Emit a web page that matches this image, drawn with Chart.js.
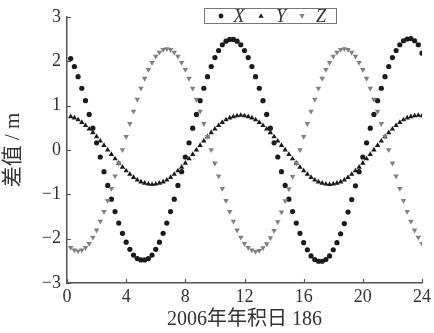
<!DOCTYPE html>
<html>
<head>
<meta charset="utf-8">
<script src="https://cdn.jsdelivr.net/npm/chart.js@4/dist/chart.umd.min.js"></script>
<style>
html,body{margin:0;padding:0;background:#fff;}
canvas{display:block;}
</style>
</head>
<body>
<canvas id="c" width="434" height="333"></canvas>
<script>
// Hours of 2006 day-of-year 186 (15-minute samples)
const hours = [0.25,0.5,0.75,1,1.25,1.5,1.75,2,2.25,2.5,2.75,3,3.25,3.5,3.75,4,4.25,4.5,4.75,5,5.25,5.5,5.75,6,6.25,6.5,6.75,7,7.25,7.5,7.75,8,8.25,8.5,8.75,9,9.25,9.5,9.75,10,10.25,10.5,10.75,11,11.25,11.5,11.75,12,12.25,12.5,12.75,13,13.25,13.5,13.75,14,14.25,14.5,14.75,15,15.25,15.5,15.75,16,16.25,16.5,16.75,17,17.25,17.5,17.75,18,18.25,18.5,18.75,19,19.25,19.5,19.75,20,20.25,20.5,20.75,21,21.25,21.5,21.75,22,22.25,22.5,22.75,23,23.25,23.5,23.75,24];

const seriesX = [2.06,1.88,1.65,1.39,1.11,0.80,0.49,0.16,-0.16,-0.49,-0.80,-1.11,-1.39,-1.65,-1.88,-2.08,-2.24,-2.37,-2.45,-2.48,-2.48,-2.45,-2.37,-2.24,-2.08,-1.88,-1.65,-1.39,-1.11,-0.80,-0.49,-0.16,0.16,0.49,0.80,1.11,1.39,1.65,1.88,2.08,2.24,2.37,2.45,2.49,
  2.49,2.45,2.37,2.24,2.08,1.88,1.65,1.39,1.11,0.80,0.49,0.16,-0.16,-0.49,-0.80,-1.11,-1.39,-1.65,-1.88,-2.09,-2.25,-2.39,-2.47,-2.51,-2.51,-2.47,-2.39,-2.25,-2.09,-1.89,-1.66,-1.40,-1.12,-0.81,-0.49,-0.16,0.16,0.49,0.80,1.11,1.39,1.65,1.88,2.08,2.24,2.37,2.46,2.50,
  2.51,2.46,2.37,2.18];

const seriesY = [0.75,0.72,0.68,0.62,0.55,0.47,0.39,0.30,0.20,0.10,0,-0.10,-0.20,-0.30,-0.39,-0.47,-0.55,-0.62,-0.68,-0.72,-0.75,-0.77,-0.78,-0.77,-0.75,-0.72,-0.68,-0.62,-0.55,-0.47,-0.39,-0.30,-0.20,-0.10,0,0.10,0.20,0.30,0.39,0.47,0.55,0.62,0.68,0.72,0.75,0.77,
  0.78,0.77,
  0.75,0.72,0.68,0.62,0.55,0.47,0.39,0.30,0.20,0.10,0,-0.10,-0.20,-0.30,-0.39,-0.47,-0.55,-0.62,-0.68,-0.72,-0.75,-0.77,-0.78,-0.77,-0.75,-0.72,-0.68,-0.62,-0.55,-0.47,-0.39,-0.30,-0.20,-0.10,0,0.10,0.20,0.30,0.39,0.47,0.55,0.62,0.68,0.72,0.75,0.77,
  0.78,0.77];

const seriesZ = [-2.20,-2.26,-2.28,-2.26,-2.20,-2.11,-1.97,-1.81,-1.61,-1.39,-1.14,-0.87,-0.59,-0.30,0,0.30,0.59,0.87,1.14,1.39,1.61,1.81,1.97,2.11,2.20,2.26,
  2.28,2.26,2.20,2.11,1.97,1.81,1.61,1.39,1.14,0.87,0.59,0.30,0,-0.30,-0.59,-0.87,-1.14,-1.39,-1.61,-1.81,-1.97,-2.11,-2.20,-2.26,-2.29,-2.27,-2.21,-2.12,-1.98,-1.82,-1.62,-1.40,-1.15,-0.88,-0.60,-0.30,0,0.30,0.59,0.87,1.14,1.39,1.61,1.81,1.97,2.11,2.20,2.26,
  2.28,2.26,2.20,2.11,1.97,1.81,1.61,1.39,1.14,0.87,0.59,0.30,0,-0.30,-0.59,-0.87,-1.14,-1.39,-1.61,-1.81,-1.97,-2.11];

const seriesNames = ['X','Y','Z'];
const xTicks = [0,4,8,12,16,20,24];
const yTicks = [-3,-2,-1,0,1,2,3];

const SERIF = "'Liberation Serif','Noto Sans CJK SC',serif";
const TXT = '#333';
const AX = '#555';

function pts(arr){ return hours.map((h,i)=>({x:h,y:arr[i]})); }

const insideTicks = {
  id:'insideTicks',
  afterDraw(chart){
    const ctx = chart.ctx, xs = chart.scales.x, ys = chart.scales.y;
    const ca = chart.chartArea;
    ctx.save();
    ctx.strokeStyle = AX; ctx.lineWidth = 1.2;
    ctx.beginPath();
    xTicks.forEach(v=>{ const p = Math.round(xs.getPixelForValue(v))+0.5; ctx.moveTo(p, ca.bottom); ctx.lineTo(p, ca.bottom-4); });
    yTicks.forEach(v=>{ const p = Math.round(ys.getPixelForValue(v))+0.5; ctx.moveTo(ca.left, p); ctx.lineTo(ca.left+4, p); });
    ctx.stroke();
    ctx.restore();
  }
};

const boxLegend = {
  id:'boxLegend',
  afterDraw(chart){
    const ctx = chart.ctx;
    ctx.save();
    const bx=204, by=8, bw=133, bh=16;
    ctx.fillStyle='#fff'; ctx.fillRect(bx,by,bw,bh);
    ctx.strokeStyle='#777'; ctx.lineWidth=1;
    ctx.strokeRect(bx+0.5,by+0.5,bw-1,bh-1);
    const cy = by+bh/2;
    ctx.fillStyle='#1a1a1a';
    ctx.beginPath(); ctx.arc(221,cy,2.4,0,Math.PI*2); ctx.fill();
    ctx.beginPath(); ctx.moveTo(261,cy-2.8); ctx.lineTo(263.6,cy+1.7); ctx.lineTo(258.4,cy+1.7); ctx.closePath(); ctx.fill();
    ctx.fillStyle='#808080';
    ctx.beginPath(); ctx.moveTo(302,cy+2.8); ctx.lineTo(304.7,cy-1.9); ctx.lineTo(299.3,cy-1.9); ctx.closePath(); ctx.fill();
    ctx.fillStyle=TXT;
    ctx.font = "italic 18px 'Liberation Serif',serif";
    ctx.textAlign='center'; ctx.textBaseline='middle';
    ctx.fillText(seriesNames[0],239,cy+1);
    ctx.fillText(seriesNames[1],281,cy+1);
    ctx.fillText(seriesNames[2],321,cy+1);
    ctx.restore();
  }
};

new Chart(document.getElementById('c'), {
  type:'scatter',
  data:{
    datasets:[
      {label:seriesNames[2], data:pts(seriesZ), pointStyle:'triangle', rotation:180, pointRadius:3.2, backgroundColor:'#808080', borderWidth:0, showLine:false},
      {label:seriesNames[1], data:pts(seriesY), pointStyle:'triangle', pointRadius:3.1, backgroundColor:'#1a1a1a', borderWidth:0, showLine:false},
      {label:seriesNames[0], data:pts(seriesX), pointStyle:'circle', pointRadius:2.6, backgroundColor:'#1a1a1a', borderWidth:0, showLine:false}
    ]
  },
  options:{
    responsive:false, animation:false, devicePixelRatio:1,
    layout:{padding:{top:16,right:12,left:0,bottom:0}},
    plugins:{legend:{display:false}, tooltip:{enabled:false}},
    scales:{
      x:{
        type:'linear', min:0, max:24,
        afterBuildTicks(s){ s.ticks = xTicks.map(v=>({value:v})); },
        afterFit(s){ s.height = 50; },
        grid:{display:false, drawTicks:false},
        border:{display:true, color:AX, width:1.5},
        ticks:{font:{family:SERIF,size:18}, color:TXT, padding:3, maxRotation:0},
        title:{display:true, text:'2006年年积日 186', font:{family:SERIF,size:20}, color:TXT, padding:{top:0,bottom:1}}
      },
      y:{
        type:'linear', min:-3, max:3,
        afterBuildTicks(s){ s.ticks = yTicks.map(v=>({value:v})); },
        afterFit(s){ s.width = 67; },
        grid:{display:false, drawTicks:false},
        border:{display:true, color:AX, width:1.5},
        ticks:{font:{family:SERIF,size:18}, color:TXT, padding:6,
          callback:(v)=> v<0 ? '\u2212'+Math.abs(v) : String(v)},
        title:{display:true, text:'差值 / m', font:{family:SERIF,size:21}, color:TXT, padding:{top:1,bottom:0}}
      }
    }
  },
  plugins:[insideTicks, boxLegend]
});
</script>
</body>
</html>
